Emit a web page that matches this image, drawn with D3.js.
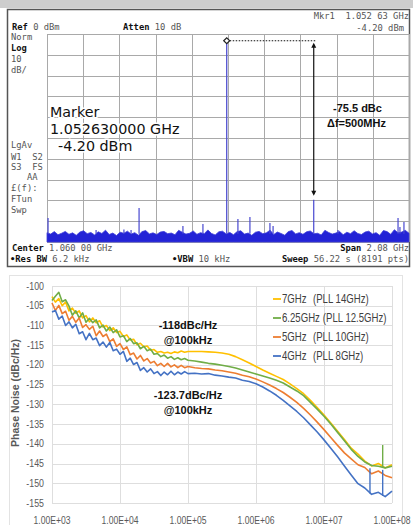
<!DOCTYPE html>
<html><head><meta charset="utf-8">
<script src="https://cdn.jsdelivr.net/npm/d3@7"></script>
<style>body{margin:0;background:#fff}svg{display:block}</style>
</head><body><svg id="c" width="413" height="525"></svg>
<script>
// ================= Spectrum analyzer (top) data =================
const saStartGHz = 0.02, saStopGHz = 2.10;
const saRefDbm = 0, saBottomDbm = -100;
const carrierGHz = 1.05263, carrierDbm = -4.20;
const spurGHz = [0.026,0.302,0.462,0.503,0.549,0.801,0.916,1.117,1.186,1.301,1.319,1.5526,1.692,2.037,2.048,2.071];
const spurDbm = [-88.5,-94.2,-94.0,-94.2,-83.7,-92.3,-91.3,-88.9,-88.0,-90.9,-92.3,-79.7,-94.2,-88.5,-92.8,-90.4];
const noiseDbm = [-95.5,-96.2,-95.0,-96.5,-95.8,-94.9,-96.3,-95.6,-96.8,-95.2,-94.6,-96.0,-95.4,-96.6,-95.1,-95.9,-94.3,-96.4,-95.7,-96.9,
 -95.3,-95.8,-94.8,-96.2,-95.5,-96.7,-95.0,-94.5,-96.1,-95.6,-96.4,-95.2,-94.9,-96.0,-95.7,-96.5,-94.4,-95.3,-96.2,-95.8,
 -94.7,-96.3,-95.5,-96.0,-94.2,-95.9,-96.6,-95.1,-94.8,-96.1,-95.4,-96.5,-95.0,-94.6,-96.2,-95.7,-96.8,-95.3,-94.9,-96.0,
 -95.6,-94.3,-96.4,-95.2,-95.9,-96.7,-95.0,-94.5,-96.1,-95.5,-96.3,-95.1,-94.7,-96.0,-95.8,-96.6,-94.4,-95.4,-96.2,-95.7,
 -94.9,-96.5,-95.3,-96.0,-94.6,-95.9,-96.4,-95.2,-94.8,-96.1,-95.5,-96.8,-94.5,-95.0,-96.3,-94.1,-95.6,-95.2,-94.4,-95.8];
const saLeftLabels = ["Norm","Log","10","dB/","LgAv","W1  S2","S3  FS","   AA","£(f):","FTun","Swp"];
const markerLines = ["Marker","1.052630000 GHz","-4.20 dBm"];
const spurNote = ["-75.5 dBc","\u0394f=500MHz"];

// ================= Phase noise (bottom) data =================
const offsetLog = [3,3.05,3.1,3.15,3.2,3.25,3.3,3.35,3.4,3.45,3.5,3.55,3.6,3.65,3.7,3.75,3.8,3.85,3.9,3.95,
 4,4.05,4.1,4.15,4.2,4.25,4.3,4.35,4.4,4.45,4.5,4.55,4.6,4.65,4.7,4.75,4.8,4.85,4.9,4.95,5,
 5.1,5.2,5.3,5.4,5.5,5.6,5.7,5.8,5.9,6,6.1,6.2,6.3,6.4,6.5,6.6,6.7,6.8,6.9,7,7.1,7.2,7.3,7.4,7.5,7.6,7.7,7.8,7.9,8];
const pn7GHz = [-102.7,-104.1,-103.2,-105.0,-104.1,-106.3,-105.6,-106.9,-106.3,-108.1,
 -107.5,-109.1,-108.1,-109.3,-108.8,-110.4,-110.0,-111.3,-110.6,-111.8,
 -111.5,-112.8,-112.4,-113.7,-113.5,-114.9,-114.5,-115.4,-115.2,-116.3,
 -116.1,-116.8,-116.6,-117.0,-116.8,-117.1,-116.7,-116.9,-116.5,-116.8,-116.6,
 -116.6,-116.6,-116.7,-116.8,-117.0,-117.3,-117.9,-118.7,-119.5,-120.4,
 -121.3,-122.1,-122.9,-123.7,-124.8,-126.0,-127.3,-129.0,-130.8,-132.7,
 -134.7,-136.8,-138.9,-141.1,-142.6,-144.4,-145.6,-145.0,-146.1,-145.3];
const pn625GHz = [-103.7,-102.6,-101.6,-104.0,-103.5,-105.1,-107.4,-106.3,-108.1,-106.8,
 -109.2,-108.2,-109.3,-108.6,-110.6,-109.9,-111.4,-110.4,-111.8,-111.1,
 -112.9,-112.6,-114.1,-113.3,-114.6,-114.4,-115.9,-115.3,-116.4,-116.0,
 -117.3,-117.1,-117.9,-117.5,-118.3,-117.9,-118.6,-118.2,-118.7,-118.4,-118.8,
 -119.0,-119.3,-119.6,-119.8,-120.1,-120.4,-120.8,-121.3,-121.8,-122.3,
 -122.8,-123.3,-123.9,-124.6,-125.6,-126.6,-127.8,-129.5,-131.2,-133.0,
 -135.0,-137.1,-139.2,-141.4,-143.2,-144.6,-145.5,-145.7,-146.1,-145.7];
const pn5GHz = [-104.3,-106.2,-104.9,-107.0,-106.4,-108.7,-107.7,-109.2,-108.1,-110.5,
 -109.8,-111.0,-110.2,-112.6,-111.4,-112.8,-112.2,-114.1,-113.4,-115.3,
 -114.6,-116.1,-115.4,-117.4,-117.0,-118.5,-117.6,-119.0,-118.4,-119.5,
 -119.1,-120.2,-119.6,-120.4,-119.6,-120.5,-120.0,-120.7,-120.1,-120.7,-120.4,
 -120.7,-120.9,-121.0,-121.3,-121.5,-121.8,-122.1,-122.6,-123.0,-123.6,
 -124.3,-125.1,-126.0,-127.0,-128.2,-129.5,-131.0,-132.7,-134.5,-136.4,
 -138.4,-140.4,-142.3,-143.8,-145.3,-146.0,-147.6,-146.9,-148.0,-148.6];
const pn4GHz = [-106.6,-106.2,-108.4,-107.6,-110.0,-109.1,-110.6,-109.7,-112.1,-111.6,
 -113.6,-112.0,-113.6,-113.2,-115.1,-114.2,-115.5,-114.3,-116.4,-116.0,
 -117.3,-116.6,-119.1,-118.3,-119.9,-119.4,-121.4,-120.7,-121.8,-121.0,
 -122.2,-121.7,-122.7,-121.8,-122.5,-121.6,-122.5,-121.8,-122.3,-121.7,-122.2,
 -122.1,-122.3,-122.2,-122.6,-122.8,-123.1,-123.3,-123.9,-124.2,-124.8,
 -125.6,-126.6,-127.7,-129.0,-130.4,-131.8,-133.4,-135.2,-137.0,-139.0,
 -141.1,-143.3,-145.6,-147.9,-150.1,-151.2,-152.8,-152.3,-153.4,-152.0];
const seriesNames = ["7GHz","6.25GHz","5GHz","4GHz"];
const pllNames = ["(PLL 14GHz)","(PLL 12.5GHz)","(PLL 10GHz)","(PLL 8GHz)"];
const seriesColors = ["#FFC000","#70AD47","#ED7D31","#4472C4"];
// spikes: [series index, log offset, base dBc, top dBc]
const pnSpikes = [[3,7.676,-152.6,-146.2],[3,7.863,-153.2,-146.6],[1,7.863,-145.9,-140.3]];
const pnYTicks = [-100,-105,-110,-115,-120,-125,-130,-135,-140,-145,-150,-155];
const pnXTicks = [1e3,1e4,1e5,1e6,1e7,1e8];
const pnXTickLabels = ["1.00E+03","1.00E+04","1.00E+05","1.00E+06","1.00E+07","1.00E+08"];
const annotations = [["-118dBc/Hz","@100kHz"],["-123.7dBc/Hz","@100kHz"]];

const svg = d3.select("#c");
const mono = "'DejaVu Sans Mono', monospace";
const sans = "'Liberation Sans',Arial,sans-serif";

// ================= TOP PANEL =================
svg.append("rect").attr("x",0).attr("y",0).attr("width",413).attr("height",8).attr("fill","#cdcdcd");
svg.append("rect").attr("x",7.5).attr("y",9.5).attr("width",402).attr("height",257)
  .attr("fill","#fff").attr("stroke","#555").attr("stroke-width",1.5);

const xSA = d3.scaleLinear().domain([saStartGHz, saStopGHz]).range([47, 409]);
const ySA = d3.scaleLinear().domain([saRefDbm, saBottomDbm]).range([34, 242]);
const gx = d3.scaleLinear().domain([0,10]).range([47,409]);
const gy = d3.scaleLinear().domain([0,10]).range([34,242]);
const grid = svg.append("g").attr("stroke","#a9a9a9").attr("stroke-width",1);
d3.range(11).forEach(i=>{
  grid.append("line").attr("x1",Math.round(gx(i))+0.5).attr("x2",Math.round(gx(i))+0.5).attr("y1",34).attr("y2",242);
  grid.append("line").attr("y1",Math.round(gy(i))+0.5).attr("y2",Math.round(gy(i))+0.5).attr("x1",47).attr("x2",409);
});

// noise floor
const idx = d3.scaleLinear().domain([0, noiseDbm.length-1]).range([saStartGHz, saStopGHz]);
svg.append("path").datum(noiseDbm)
  .attr("d", d3.area().x((d,i)=>xSA(idx(i))).y0(ySA(saBottomDbm)).y1(d=>ySA(d)))
  .attr("fill","#2323d6").attr("stroke","#3b3bd8").attr("stroke-width",0.8);
// spurs
svg.append("g").selectAll("line").data(spurGHz).join("line")
  .attr("x1",d=>xSA(d)).attr("x2",d=>xSA(d))
  .attr("y1",ySA(-96)).attr("y2",(d,i)=>ySA(spurDbm[i]))
  .attr("stroke","#4848d0").attr("stroke-width",1.2);
// carrier
svg.append("line").attr("x1",xSA(carrierGHz)).attr("x2",xSA(carrierGHz))
  .attr("y1",ySA(-96)).attr("y2",ySA(carrierDbm)).attr("stroke","#5050d0").attr("stroke-width",1.3);
// marker diamond
const mx = xSA(carrierGHz), my = ySA(carrierDbm) - 2;
svg.append("path").attr("d",`M${mx-3},${my}L${mx},${my-3}L${mx+3},${my}L${mx},${my+3}Z`)
  .attr("fill","#fff").attr("stroke","#222").attr("stroke-width",1.2);
// dotted reference line and arrow
const sx = xSA(spurGHz[11]);
svg.append("line").attr("x1",mx+3).attr("x2",sx+2).attr("y1",my).attr("y2",my)
  .attr("stroke","#111").attr("stroke-width",1.2).attr("stroke-dasharray","1.5,1.5");
svg.append("line").attr("x1",sx).attr("x2",sx).attr("y1",my+4).attr("y2",ySA(spurDbm[11])-6)
  .attr("stroke","#111").attr("stroke-width",1.2);
const ay1 = my+2, ay2 = ySA(spurDbm[11])-4;
svg.append("path").attr("d",`M${sx},${ay1}L${sx-2.5},${ay1+5}L${sx+2.5},${ay1+5}Z`).attr("fill","#111");
svg.append("path").attr("d",`M${sx},${ay2}L${sx-2.5},${ay2-5}L${sx+2.5},${ay2-5}Z`).attr("fill","#111");

svg.append("text").attr("x",333).attr("y",112).text(spurNote[0])
  .attr("font-family",sans).attr("font-weight","bold").attr("font-size",11).attr("fill","#111");
svg.append("text").attr("x",327).attr("y",127).text(spurNote[1])
  .attr("font-family",sans).attr("font-weight","bold").attr("font-size",11).attr("fill","#111");

// header texts
function monoText(x,y,parts,anchor){
  const t = svg.append("text").attr("x",x).attr("y",y).attr("font-family",mono).attr("font-size",8.8)
    .attr("text-anchor",anchor||"start").attr("xml:space","preserve").style("white-space","pre");
  parts.forEach(p=>t.append("tspan").text(p[0]).attr("font-weight",p[1]?"bold":"normal").attr("fill",p[1]?"#111":"#555"));
  return t;
}
monoText(12,30,[["Ref",1],[" 0 dBm",0]]);
monoText(123,30,[["Atten",1],[" 10 dB",0]]);
monoText(409,19,[["Mkr1  1.052 63 GHz",0]],"end");
monoText(404,31,[["-4.20 dBm",0]],"end");
const leftY = [40,51,62,73,148,160,170,180,191,202,213];
saLeftLabels.forEach((s,i)=>monoText(11,leftY[i],[[s, s==="Log"]]));
monoText(12,251,[["Center",1],[" 1.060 00 GHz",0]]);
monoText(10,262,[["\u2022Res BW",1],[" 6.2 kHz",0]]);
monoText(172,262,[["\u2022VBW",1],[" 10 kHz",0]]);
monoText(409,251,[["Span",1],[" 2.08 GHz",0]],"end");
monoText(409,262,[["Sweep",1],[" 56.22 s (8191 pts)",0]],"end");

// marker readout
const mY = [117,134,151], mX = [50,50,58];
markerLines.forEach((s,i)=>{
  svg.append("text").attr("x",mX[i]).attr("y",mY[i]).text(s)
    .attr("font-family","'DejaVu Sans',sans-serif").attr("font-size",14.3).attr("fill","#111")
    .attr("stroke","#fff").attr("stroke-width",3).attr("paint-order","stroke");
});

// ================= BOTTOM PANEL =================
svg.append("rect").attr("x",9.5).attr("y",275.5).attr("width",393).attr("height",260)
  .attr("fill","#fff").attr("stroke","#e3e3e3");
const xPN = d3.scaleLog().domain([1e3,1e8]).range([52,392]);
const yPN = d3.scaleLinear().domain([-155,-100]).range([503,286]);
// condensed text helper (no narrow font installed): horizontal squeeze
function narrowText(parent,x,y,s,size,anchor,sq){
  return parent.append("text").attr("transform",`translate(${x},${y}) scale(${sq||0.84},1)`)
    .attr("text-anchor",anchor).text(s).attr("font-family",sans).attr("font-size",size).attr("fill","#595959");
}
const g2 = svg.append("g");
pnYTicks.forEach(v=>{
  g2.append("line").attr("x1",52).attr("x2",392).attr("y1",Math.round(yPN(v))+0.5).attr("y2",Math.round(yPN(v))+0.5)
    .attr("stroke","#dedede");
  narrowText(g2,44,yPN(v)+3.5,v,10.5,"end",0.84);
});
pnXTicks.forEach((v,i)=>{
  g2.append("line").attr("x1",Math.round(xPN(v))+0.5).attr("x2",Math.round(xPN(v))+0.5).attr("y1",286).attr("y2",503)
    .attr("stroke","#dedede");
  narrowText(g2,xPN(v),524,pnXTickLabels[i],10,"middle",0.86);
});
svg.append("text").attr("transform","translate(19,393) rotate(-90)").attr("text-anchor","middle")
  .text("Phase Noise (dBc/Hz)").attr("font-family",sans)
  .attr("font-weight","bold").attr("font-size",10.5).attr("fill","#595959");

const seriesData = [pn7GHz, pn625GHz, pn5GHz, pn4GHz];
const line = d3.line().x((d,i)=>xPN(Math.pow(10,offsetLog[i]))).y(d=>yPN(d));
seriesData.forEach((s,k)=>{
  svg.append("path").datum(s).attr("d",line).attr("fill","none")
    .attr("stroke",seriesColors[k]).attr("stroke-width",1.6).attr("stroke-linejoin","round");
});
pnSpikes.forEach(sp=>{
  const x = xPN(Math.pow(10,sp[1]));
  svg.append("line").attr("x1",x).attr("x2",x).attr("y1",yPN(sp[2])).attr("y2",yPN(sp[3]))
    .attr("stroke",seriesColors[sp[0]]).attr("stroke-width",1.4);
});

// legend
const legY = [299,318,337,356];
const legSq = 0.8;
seriesNames.forEach((n,i)=>{
  svg.append("line").attr("x1",273).attr("x2",281).attr("y1",legY[i]).attr("y2",legY[i])
    .attr("stroke",seriesColors[i]).attr("stroke-width",1.8);
  const t1 = narrowText(svg,282,legY[i]+4,n,12,"start",legSq).attr("fill","#404040");
  const w = t1.node().getComputedTextLength()*legSq;
  narrowText(svg,Math.max(313, 282+w+3),legY[i]+4,pllNames[i],12,"start",legSq).attr("fill","#404040");
});

// annotations
const annY = [[329,344],[399,414]];
annotations.forEach((a,i)=>{
  a.forEach((s,j)=>svg.append("text").attr("x",188).attr("y",annY[i][j]).attr("text-anchor","middle").text(s)
    .attr("font-family",sans).attr("font-weight","bold").attr("font-size",11).attr("fill","#111"));
});
</script></body></html>
